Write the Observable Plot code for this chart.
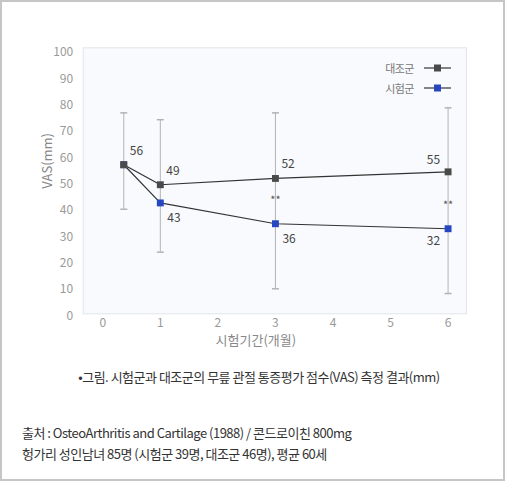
<!DOCTYPE html>
<html>
<head>
<meta charset="utf-8">
<script src="https://cdn.jsdelivr.net/npm/d3@7"></script>
<script src="https://cdn.jsdelivr.net/npm/@observablehq/plot@0.6"></script>
<style>
  body { margin: 0; background: #fff; font-family: "Noto Sans CJK KR", "Noto Sans", sans-serif; }
  #card { position: relative; width: 508px; height: 482px; overflow: hidden; }
  #border { position: absolute; left: 0; top: 0; width: 505px; height: 481px; box-sizing: border-box; border: 2px solid #c6c6c6; }
  #chart { position: absolute; left: 0; top: 0; }
  #legend { position: absolute; left: 360px; top: 58px; font-size: 11px; color: #777; letter-spacing: -0.5px; }
  #legend .row { display: flex; align-items: center; height: 20px; }
  #legend .name { width: 54px; text-align: right; margin-right: 10px; }
  #caption { position: absolute; left: 0; width: 518px; top: 367px; text-align: center; font-size: 13px; color: #333; letter-spacing: -0.5px; }
  #source { position: absolute; left: 22px; top: 422px; font-size: 13px; line-height: 21.3px; color: #333; letter-spacing: -0.5px; }
  g[aria-label="test-dots"] { filter: drop-shadow(0 0 2px rgba(90, 150, 255, 0.75)); }
</style>
</head>
<body>
<div id="card">
  <div id="chart"></div>
  <div id="legend"></div>
  <div id="caption"></div>
  <div id="source"></div>
  <div id="border"></div>
</div>
<script>
// 값은 그림에서 읽은 것
const months = [0.365, 1, 3, 6];
const control = [56.6, 49.0, 51.4, 53.9];
const test = [56.6, 42.1, 34.2, 32.3];
const controlLabels = ["56", "49", "52", "55"];
const testLabels = ["", "43", "36", "32"];
const errLow = [39.7, 23.4, 9.5, 7.7];
const errHigh = [76.3, 73.7, 76.3, 78.2];
const starMonths = [3, 6];
const starValues = [43, 41.2];
const xTicks = [0, 1, 2, 3, 4, 5, 6];
const yTicks = [0, 10, 20, 30, 40, 50, 60, 70, 80, 90, 100];
const seriesNames = ["대조군", "시험군"];
const seriesColors = ["#4a4a4a", "#2747c2"];

const xLabel = "시험기간(개월)";
const yLabel = "VAS(mm)";
const captionText = "•그림. 시험군과 대조군의 무릎 관절 통증평가 점수(VAS) 측정 결과(mm)";
const sourceLines = [
  "출처 : OsteoArthritis and Cartilage (1988) / 콘드로이친 800mg",
  "헝가리 성인남녀 85명 (시험군 39명, 대조군 46명), 평균 60세"
];

const controlRows = months.map((m, i) => ({month: m, value: control[i], label: controlLabels[i]}));
const testRows = months.map((m, i) => ({month: m, value: test[i], label: testLabels[i]}));
const errRows = months.map((m, i) => ({month: m, low: errLow[i], high: errHigh[i]}));
const starRows = starMonths.map((m, i) => ({month: m, value: starValues[i]}));
const last = months.length - 1;

// 오차막대 끝의 가로 캡
const capSymbol = {
  draw(context, size) {
    const w = Math.sqrt(size) / 2;
    context.moveTo(-w, 0);
    context.lineTo(w, 0);
  }
};

const chart = Plot.plot({
  width: 508,
  height: 360,
  marginTop: 47.3,
  marginBottom: 46.7,
  marginLeft: 82.7,
  marginRight: 42,
  style: {fontFamily: '"Noto Sans CJK KR", "Noto Sans", sans-serif', fontSize: "12px", background: "transparent"},
  x: {domain: [-0.34, 6.32]},
  y: {domain: [0, 101]},
  marks: [
    Plot.frame({fill: "#f8fafd", stroke: "#e2e5ea"}),
    Plot.ruleX(errRows, {x: "month", y1: "low", y2: "high", stroke: "#b3b3b3", strokeWidth: 1}),
    Plot.dot(errRows, {x: "month", y: "low", symbol: capSymbol, r: 3.95, stroke: "#b3b3b3", fill: "none"}),
    Plot.dot(errRows, {x: "month", y: "high", symbol: capSymbol, r: 3.95, stroke: "#b3b3b3", fill: "none"}),
    Plot.line(testRows, {x: "month", y: "value", stroke: "#333", strokeWidth: 1.2}),
    Plot.line(controlRows, {x: "month", y: "value", stroke: "#333", strokeWidth: 1.2}),
    Plot.dot(testRows, {x: "month", y: "value", symbol: "square", r: 3.9, fill: seriesColors[1], ariaLabel: "test-dots"}),
    Plot.dot(controlRows, {x: "month", y: "value", symbol: "square", r: 3.9, fill: seriesColors[0]}),
    Plot.text(controlRows.slice(0, last), {x: "month", y: "value", text: "label", textAnchor: "start", dx: 6, dy: -14, fill: "#444"}),
    Plot.text(controlRows.slice(last), {x: "month", y: "value", text: "label", textAnchor: "end", dx: -8, dy: -11.5, fill: "#444"}),
    Plot.text(testRows.slice(1, last), {x: "month", y: "value", text: "label", textAnchor: "start", dx: 7, dy: 15, fill: "#444"}),
    Plot.text(testRows.slice(last), {x: "month", y: "value", text: "label", textAnchor: "end", dx: -8, dy: 12, fill: "#444"}),
    Plot.text(starRows, {x: "month", y: "value", text: () => "**", fontSize: 11, fill: "#555"}),
    Plot.axisX({ticks: xTicks, tickFormat: d => String(d), tickSize: 0, tickPadding: 5, color: "#999", label: null}),
    Plot.axisY({ticks: yTicks, tickFormat: d => String(d), tickSize: 0, tickPadding: 10, dy: 2, color: "#999", label: null}),
    Plot.text([xLabel], {frameAnchor: "bottom", dx: -19, dy: 31, fontSize: 13, fill: "#888"}),
    Plot.text([yLabel], {frameAnchor: "left", rotate: -90, dx: -35, dy: 8, fontSize: 13, fill: "#888"})
  ]
});
document.getElementById("chart").append(chart);

// 범례
const legend = d3.select("#legend");
seriesNames.forEach((name, i) => {
  const row = legend.append("div").attr("class", "row");
  row.append("span").attr("class", "name").text(name);
  const sw = row.append("svg").attr("width", 28).attr("height", 10);
  sw.append("line").attr("x1", 0).attr("x2", 27).attr("y1", 5).attr("y2", 5).attr("stroke", "#333").attr("stroke-width", 1.2);
  sw.append("rect").attr("x", 10).attr("y", 1.5).attr("width", 7).attr("height", 7).attr("fill", seriesColors[i]);
});

document.getElementById("caption").textContent = captionText;
d3.select("#source").selectAll("div").data(sourceLines).join("div").text(d => d);
</script>
</body>
</html>
